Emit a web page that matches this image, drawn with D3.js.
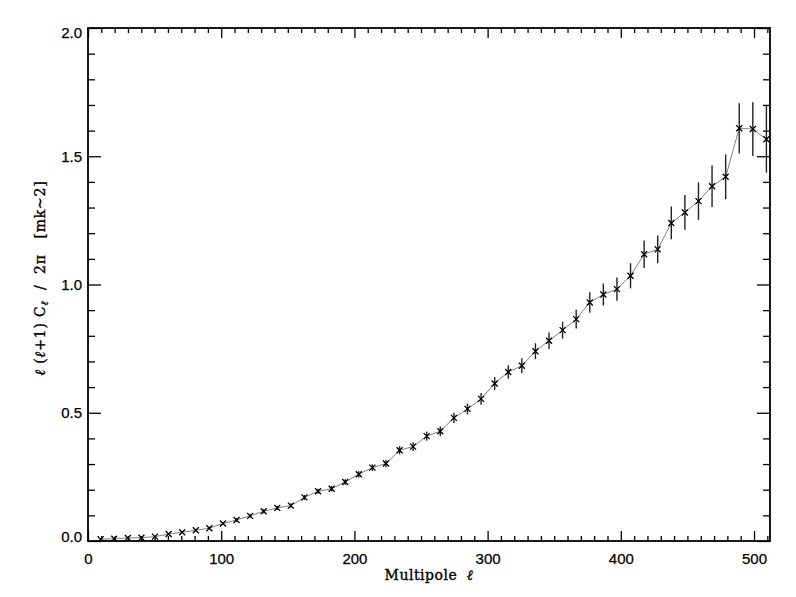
<!DOCTYPE html>
<html>
<head>
<meta charset="utf-8">
<script src="https://cdn.jsdelivr.net/npm/d3@7"></script>
<style>
body { margin: 0; background: #fff; }
svg { display: block; }
.tick text { font-family: "Liberation Sans", Arial, sans-serif; font-size: 15px; fill: #000; stroke: #000; stroke-width: 0.25px; }
.axTitle { font-family: "DejaVu Serif", serif; font-size: 14px; fill: #000; stroke: #000; stroke-width: 0.35px; white-space: pre; }
</style>
</head>
<body>
<svg id="chart" width="796" height="597"></svg>
<script>
// multipole bin centres
var ells = [9.5, 19.7, 29.9, 40.1, 50.3, 60.5, 70.7, 80.9, 91.1, 101.3,
    111.5, 121.7, 131.9, 142.1, 152.3, 162.5, 172.7, 182.9, 193.1, 203.3,
    213.5, 223.7, 233.9, 244.1, 254.3, 264.5, 274.7, 284.9, 295.1, 305.3,
    315.5, 325.7, 335.9, 346.1, 356.3, 366.5, 376.7, 386.9, 397.1, 407.3,
    417.5, 427.7, 437.9, 448.1, 458.3, 468.5, 478.7, 488.9, 499.1, 509.3]

// l(l+1)Cl/2pi  [mK^2]
var power = [0.007, 0.009, 0.012, 0.013, 0.017, 0.027, 0.034, 0.042, 0.050, 0.068,
    0.082, 0.098, 0.116, 0.129, 0.138, 0.170, 0.194, 0.204, 0.230, 0.260,
    0.286, 0.302, 0.354, 0.368, 0.409, 0.428, 0.480, 0.515, 0.554, 0.614,
    0.659, 0.683, 0.740, 0.781, 0.822, 0.865, 0.930, 0.961, 0.982, 1.034,
    1.118, 1.137, 1.240, 1.281, 1.325, 1.383, 1.420, 1.609, 1.606, 1.566]

var errs = [0.003, 0.003, 0.003, 0.003, 0.003, 0.004, 0.004, 0.005, 0.005, 0.006,
    0.007, 0.007, 0.008, 0.008, 0.009, 0.010, 0.010, 0.011, 0.011, 0.012,
    0.013, 0.014, 0.016, 0.017, 0.018, 0.019, 0.020, 0.021, 0.023, 0.025,
    0.026, 0.029, 0.031, 0.032, 0.033, 0.037, 0.040, 0.043, 0.045, 0.049,
    0.054, 0.054, 0.064, 0.068, 0.073, 0.081, 0.087, 0.098, 0.105, 0.130]

var xMajor = [0, 100, 200, 300, 400, 500]
var yMajor = [0, 0.5, 1.0, 1.5, 2.0]

var plot = {left: 88, right: 770, top: 28, bottom: 541}

var svg = d3.select("#chart")

var x = d3.scaleLinear().domain([0, 512]).range([plot.left, plot.right])
var y = d3.scaleLinear().domain([0, 2]).range([plot.bottom, plot.top])

var xMinor = d3.range(0, 512, 10).filter(function(d){return d % 100 != 0})
var yMinor = d3.range(0, 2.0001, 0.1).filter(function(d){return Math.abs(d*2 - Math.round(d*2)) > 1e-6})

function styleAxis(g){
    g.selectAll(".domain").remove()
    g.selectAll(".tick line").attr("stroke", "#000").attr("stroke-width", 1.3)
}

// bottom
svg.append("g")
    .attr("transform", "translate(0," + plot.bottom + ")")
    .call(d3.axisBottom(x).tickValues(xMajor).tickSizeInner(-10).tickSizeOuter(0).tickPadding(12).tickFormat(d3.format("d")))
    .call(styleAxis)
svg.append("g")
    .attr("transform", "translate(0," + plot.bottom + ")")
    .call(d3.axisBottom(x).tickValues(xMinor).tickSizeInner(-5).tickSizeOuter(0).tickFormat(""))
    .call(styleAxis)
// top
svg.append("g")
    .attr("transform", "translate(0," + plot.top + ")")
    .call(d3.axisTop(x).tickValues(xMajor).tickSizeInner(-10).tickSizeOuter(0).tickFormat(""))
    .call(styleAxis)
svg.append("g")
    .attr("transform", "translate(0," + plot.top + ")")
    .call(d3.axisTop(x).tickValues(xMinor).tickSizeInner(-5).tickSizeOuter(0).tickFormat(""))
    .call(styleAxis)
// left
var yAxisG = svg.append("g")
    .attr("transform", "translate(" + plot.left + ",0)")
    .call(d3.axisLeft(y).tickValues(yMajor).tickSizeInner(-13).tickSizeOuter(0).tickPadding(6).tickFormat(d3.format(".1f")))
    .call(styleAxis)
// end labels sit just inside the axis range, as in the original
yAxisG.selectAll(".tick text")
    .attr("y", function(d){
        if(d == 0) return -4
        if(d == 2) return 5
        return 0
    })
svg.append("g")
    .attr("transform", "translate(" + plot.left + ",0)")
    .call(d3.axisLeft(y).tickValues(yMinor).tickSizeInner(-7).tickSizeOuter(0).tickFormat(""))
    .call(styleAxis)
// right
svg.append("g")
    .attr("transform", "translate(" + plot.right + ",0)")
    .call(d3.axisRight(y).tickValues(yMajor).tickSizeInner(-13).tickSizeOuter(0).tickFormat(""))
    .call(styleAxis)
svg.append("g")
    .attr("transform", "translate(" + plot.right + ",0)")
    .call(d3.axisRight(y).tickValues(yMinor).tickSizeInner(-7).tickSizeOuter(0).tickFormat(""))
    .call(styleAxis)

// box
svg.append("rect")
    .attr("x", plot.left)
    .attr("y", plot.top)
    .attr("width", plot.right - plot.left)
    .attr("height", plot.bottom - plot.top)
    .attr("fill", "none")
    .attr("stroke", "#000")
    .attr("stroke-width", 1.8)

var pts = ells.map(function(l, i){return {l: l, p: power[i], e: errs[i]}})

svg.append("defs").append("clipPath").attr("id", "clip")
    .append("rect")
    .attr("x", plot.left).attr("y", plot.top)
    .attr("width", plot.right - plot.left).attr("height", plot.bottom - plot.top)

var g = svg.append("g").attr("clip-path", "url(#clip)")

// connecting line
g.append("path")
    .datum(pts)
    .attr("fill", "none")
    .attr("stroke", "#808080")
    .attr("stroke-width", 1)
    .attr("d", d3.line().x(function(d){return x(d.l)}).y(function(d){return y(d.p)}))

// error bars
g.selectAll("line.err")
    .data(pts)
    .enter()
    .append("line")
    .attr("class", "err")
    .attr("x1", function(d){return x(d.l)})
    .attr("x2", function(d){return x(d.l)})
    .attr("y1", function(d){return y(d.p - d.e)})
    .attr("y2", function(d){return y(d.p + d.e)})
    .attr("stroke", "#222")
    .attr("stroke-width", 1.4)

// x markers
var s = 3
g.selectAll("path.mark")
    .data(pts)
    .enter()
    .append("path")
    .attr("class", "mark")
    .attr("d", function(d){
        var cx = x(d.l), cy = y(d.p)
        return "M" + (cx-s) + "," + (cy-s) + "L" + (cx+s) + "," + (cy+s) +
            "M" + (cx-s) + "," + (cy+s) + "L" + (cx+s) + "," + (cy-s)
    })
    .attr("stroke", "#000")
    .attr("stroke-width", 1.3)

// axis titles
svg.append("text")
    .attr("class", "axTitle")
    .attr("x", (plot.left + plot.right)/2)
    .attr("y", 580)
    .style("text-anchor", "middle")
    .style("letter-spacing", "0.5px")
    .text("Multipole  ")
    .append("tspan")
    .style("font-style", "italic")
    .text("\u2113")

var yl = svg.append("text")
    .attr("class", "axTitle")
    .attr("transform", "translate(45," + 278 + ") rotate(-90)")
    .style("text-anchor", "middle")
    .style("letter-spacing", "0.8px")
yl.append("tspan").style("font-style", "italic").text("\u2113")
yl.append("tspan").text(" (")
yl.append("tspan").style("font-style", "italic").text("\u2113")
yl.append("tspan").text("+1) C")
yl.append("tspan").style("font-style", "italic").style("font-size", "10px").attr("dy", 3).text("\u2113")
yl.append("tspan").attr("dy", -3).text("  /  2\u03c0   [mk~2]")
</script>
</body>
</html>
